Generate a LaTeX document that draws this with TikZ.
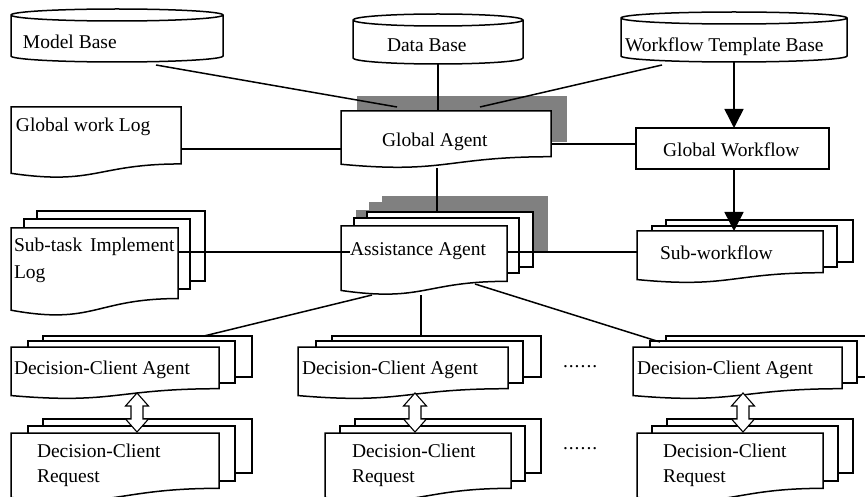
\documentclass[tikz,border=0pt]{standalone}
\usepackage{fontspec}
\setmainfont{Liberation Serif}
\usetikzlibrary{arrows.meta}

\makeatletter
\newdimen\dsL \newdimen\dsR \newdimen\dsT \newdimen\dsB
\newdimen\dsM \newdimen\dsH \newdimen\dsD \newdimen\dsA
\newdimen\dsC \newdimen\dsP \newdimen\dsQ \newdimen\dsU
\newdimen\dsV \newdimen\dsW \newdimen\dsX

% corners of the node box and its middle x
\def\ds@corners{%
  \southwest \dsL=\pgf@x \dsB=\pgf@y
  \northeast \dsR=\pgf@x \dsT=\pgf@y
  \dsM=\dsL \advance\dsM by \dsR \dsM=.5\dsM
}

% a page whose lower edge is wavy
\pgfdeclareshape{docpage}{%
  \inheritsavedanchors[from=rectangle]%
  \inheritanchorborder[from=rectangle]%
  \inheritanchor[from=rectangle]{center}%
  \inheritanchor[from=rectangle]{mid}%
  \inheritanchor[from=rectangle]{base}%
  \inheritanchor[from=rectangle]{north}%
  \inheritanchor[from=rectangle]{south}%
  \inheritanchor[from=rectangle]{east}%
  \inheritanchor[from=rectangle]{west}%
  \inheritanchor[from=rectangle]{north east}%
  \inheritanchor[from=rectangle]{north west}%
  \inheritanchor[from=rectangle]{south east}%
  \inheritanchor[from=rectangle]{south west}%
  \backgroundpath{%
    \ds@corners
    \dsH=\dsT \advance\dsH by -\dsB
    \dsA=\dsB \advance\dsA by .198\dsH
    \dsC=\dsB \advance\dsC by .066\dsH
    \dsD=\dsB \advance\dsD by -.1075\dsH
    \pgfpathmoveto{\pgfpoint{\dsL}{\dsT}}%
    \pgfpathlineto{\pgfpoint{\dsR}{\dsT}}%
    \pgfpathlineto{\pgfpoint{\dsR}{\dsA}}%
    \pgfpathcurveto{\pgfpoint{\dsM}{\dsA}}{\pgfpoint{\dsM}{\dsD}}{\pgfpoint{\dsL}{\dsC}}%
    \pgfpathclose
  }%
}

% a drum (database store) with an elliptic lid
\pgfdeclareshape{drum}{%
  \inheritsavedanchors[from=rectangle]%
  \inheritanchorborder[from=rectangle]%
  \inheritanchor[from=rectangle]{center}%
  \inheritanchor[from=rectangle]{mid}%
  \inheritanchor[from=rectangle]{base}%
  \inheritanchor[from=rectangle]{north}%
  \inheritanchor[from=rectangle]{south}%
  \inheritanchor[from=rectangle]{east}%
  \inheritanchor[from=rectangle]{west}%
  \inheritanchor[from=rectangle]{north east}%
  \inheritanchor[from=rectangle]{north west}%
  \inheritanchor[from=rectangle]{south east}%
  \inheritanchor[from=rectangle]{south west}%
  \backgroundpath{%
    \ds@corners
    \dsH=\dsR \advance\dsH by -\dsM
    \dsD=6pt
    \dsA=\dsT \advance\dsA by -\dsD
    \dsC=\dsB \advance\dsC by \dsD
    \dsP=\dsM \advance\dsP by -.5523\dsH
    \dsQ=\dsM \advance\dsQ by .5523\dsH
    \dsU=\dsC \advance\dsU by -.5523\dsD
    \dsV=\dsA \advance\dsV by .5523\dsD
    \dsW=\dsA \advance\dsW by -.5523\dsD
    \dsX=\dsA \advance\dsX by -\dsD
    \pgfpathmoveto{\pgfpoint{\dsL}{\dsA}}%
    \pgfpathlineto{\pgfpoint{\dsL}{\dsC}}%
    \pgfpathcurveto{\pgfpoint{\dsL}{\dsU}}{\pgfpoint{\dsP}{\dsB}}{\pgfpoint{\dsM}{\dsB}}%
    \pgfpathcurveto{\pgfpoint{\dsQ}{\dsB}}{\pgfpoint{\dsR}{\dsU}}{\pgfpoint{\dsR}{\dsC}}%
    \pgfpathlineto{\pgfpoint{\dsR}{\dsA}}%
    \pgfpathcurveto{\pgfpoint{\dsR}{\dsV}}{\pgfpoint{\dsQ}{\dsT}}{\pgfpoint{\dsM}{\dsT}}%
    \pgfpathcurveto{\pgfpoint{\dsP}{\dsT}}{\pgfpoint{\dsL}{\dsV}}{\pgfpoint{\dsL}{\dsA}}%
    \pgfpathclose
    \pgfpathmoveto{\pgfpoint{\dsL}{\dsA}}%
    \pgfpathcurveto{\pgfpoint{\dsL}{\dsW}}{\pgfpoint{\dsP}{\dsX}}{\pgfpoint{\dsM}{\dsX}}%
    \pgfpathcurveto{\pgfpoint{\dsQ}{\dsX}}{\pgfpoint{\dsR}{\dsW}}{\pgfpoint{\dsR}{\dsA}}%
  }%
}
\makeatother

\definecolor{shadegray}{RGB}{128,128,128}

\tikzset{
  frame/.style={draw=black, line width=1.5pt, fill=white, inner sep=0pt,
    outer sep=0pt, anchor=north west},
  docbox/.style={frame, shape=docpage},
  store/.style={frame, shape=drum},
  sheet/.style={frame, shape=rectangle},
  shadowbox/.style={shape=rectangle, fill=shadegray, draw=none, inner sep=0pt,
    outer sep=0pt, anchor=north west},
  dims/.style 2 args={minimum width=#1pt, minimum height=#2pt},
  caption/.style={anchor=base west, inner sep=0pt, outer sep=0pt,
    font=\fontsize{19.5pt}{24pt}\selectfont},
  link/.style={line width=1.5pt},
  flow/.style={link, -{Triangle[length=19pt,width=19pt]}},
  twoway/.style={draw=black, line width=1.1pt, fill=white, line join=miter},
}

% hollow two-headed arrow hanging below the given point
\newcommand\twoway[1]{%
  \draw[twoway] (#1) -- ++(11.5,13) -- ++(-5.5,0) -- ++(0,13) -- ++(5.5,0)
    -- ++(-11.5,13) -- ++(-11.5,-13) -- ++(5.5,0) -- ++(0,-13) -- ++(-5.5,0)
    -- cycle;}

% spaced ellipsis dots
\newcommand\spaceddots{.\kern1pt.\kern1pt.\kern1pt.\kern1pt.\kern1pt.}

\begin{document}
\begin{tikzpicture}[x=1pt, y=-1pt]
\useasboundingbox (0,0) rectangle (865,497);
\clip (0,0) rectangle (865,497);

% shadows behind the agents
\node[shadowbox, dims={210}{46}] (ga-sh) at (357,96) {};
\node[shadowbox, dims={166}{55}] (aa3-sh) at (382,196) {};
\node[shadowbox, dims={165}{55}] (aa2-sh) at (369,202) {};
\node[shadowbox, dims={166}{55}] (aa1-sh) at (356,210) {};

% stores
\node[store, dims={212}{53}] (mb) at (11,9) {};
\node[store, dims={170}{50}] (db) at (353,14) {};
\node[store, dims={226}{50}] (wt) at (621,12) {};

% global level
\node[docbox, dims={170}{71}] (gwl) at (11,107) {};
\node[docbox, dims={210}{57}] (ga) at (341,111) {};
\node[sheet, dims={193}{41}] (gw) at (636,128) {};

% sub-task log stack
\node[sheet, dims={168}{70}] (st3) at (37,211) {};
\node[sheet, dims={166}{70}] (st2) at (24,219) {};
\node[docbox, dims={167}{88}] (st1) at (11,228) {};

% assistance agent stack
\node[sheet, dims={166}{55}] (aa3) at (367,212) {};
\node[sheet, dims={165}{55}] (aa2) at (354,218) {};
\node[docbox, dims={166}{69}] (aa1) at (341,226) {};

% sub-workflow stack
\node[sheet, dims={187}{42}] (sw3) at (666,220) {};
\node[sheet, dims={185}{41}] (sw2) at (652,226) {};
\node[docbox, dims={186}{52}] (sw1) at (637,231) {};

% decision-client agents
\node[sheet, dims={209}{41}] (dca1c) at (43,336) {};
\node[sheet, dims={207}{42}] (dca1b) at (28,341) {};
\node[docbox, dims={208}{52}] (dca1a) at (11,347) {};

\node[sheet, dims={209}{41}] (dca2c) at (332,336) {};
\node[sheet, dims={207}{42}] (dca2b) at (316,341) {};
\node[docbox, dims={210}{52}] (dca2a) at (298,347) {};

\node[sheet, dims={209}{41}] (dca3c) at (666,336) {};
\node[sheet, dims={207}{42}] (dca3b) at (650,341) {};
\node[docbox, dims={209}{52}] (dca3a) at (633,347) {};

% decision-client requests
\node[sheet, dims={209}{54}] (dcr1c) at (43,419) {};
\node[sheet, dims={207}{55}] (dcr1b) at (28,426) {};
\node[docbox, dims={208}{69}] (dcr1a) at (11,433) {};

\node[sheet, dims={186}{54}] (dcr2c) at (355,419) {};
\node[sheet, dims={185}{55}] (dcr2b) at (340,426) {};
\node[docbox, dims={186}{69}] (dcr2a) at (325,433) {};

\node[sheet, dims={186}{54}] (dcr3c) at (667,419) {};
\node[sheet, dims={186}{55}] (dcr3b) at (652,426) {};
\node[docbox, dims={186}{69}] (dcr3a) at (637,433) {};

% connector end points
\coordinate (mb-o) at (156,65);
\coordinate (ga-i1) at (397,107);
\coordinate (wt-o) at (662,65);
\coordinate (ga-i2) at (480,107);
\coordinate (ga-o) at (437,168);
\coordinate (rowG) at (0,149);
\coordinate (rowW) at (0,144);
\coordinate (rowA) at (0,252);
\coordinate (aa-o1) at (372,295);
\coordinate (aa-o2) at (421,295);
\coordinate (aa-o3) at (475,284);
\coordinate (dca1-i) at (204,336);
\coordinate (dca3-i) at (660,342);

% connectors
\draw[link] (mb-o) -- (ga-i1);
\draw[link] (wt-o) -- (ga-i2);
\draw[link] (db.south) -- (db.south |- ga.north);
\draw[link] (gwl.east |- rowG) -- (ga.west |- rowG);
\draw[link] (ga.east |- rowW) -- (gw.west |- rowW);
\draw[flow] (wt.south) -- (wt.south |- gw.north);
\draw[flow] (wt.south |- gw.south) -- (wt.south |- sw1.north);
\draw[link] (ga-o) -- (ga-o |- aa3.north);
\draw[link, shorten >=-9pt] (st1.east |- rowA) -- (aa1.west |- rowA);
\draw[link] (aa1.east |- rowA) -- (sw1.west |- rowA);
\draw[link] (aa-o1) -- (dca1-i);
\draw[link] (aa-o2) -- (aa-o2 |- dca2c.north);
\draw[link] (aa-o3) -- (dca3-i);

% agent <-> request exchanges
\coordinate (x1) at (137,393);
\coordinate (x2) at (415,393);
\coordinate (x3) at (743,393);
\twoway{x1}
\twoway{x2}
\twoway{x3}

% texts
\node[caption] (mb-t) at (23,49) {Model Base};
\node[caption] (db-t) at (387,52) {Data Base};
\node[caption] (wt-t) at (625,52) {Workflow Template Base};
\node[caption] (gwl-t) at (16,132) {Global work Log};
\node[caption] (ga-t) at (382,147) {Global Agent};
\node[caption] (gw-t) at (663,157) {Global Workflow};
\node[caption] (st-t1) at (14,252) {Sub-task\hspace{3pt} Implement};
\node[caption] (st-t2) at (14,278) {Log};
\node[caption] (aa-t) at (350,255) {Assistance Agent};
\node[caption] (sw-t) at (660,259) {Sub-workflow};
\node[caption] (dca1-t) at (14,374) {Decision-Client Agent};
\node[caption] (dca2-t) at (302,374) {Decision-Client Agent};
\node[caption] (dca3-t) at (637,374) {Decision-Client Agent};
\node[caption] (dcr1-t1) at (37,457) {Decision-Client};
\node[caption] (dcr1-t2) at (37,482) {Request};
\node[caption] (dcr2-t1) at (352,457) {Decision-Client};
\node[caption] (dcr2-t2) at (352,482) {Request};
\node[caption] (dcr3-t1) at (663,457) {Decision-Client};
\node[caption] (dcr3-t2) at (663,482) {Request};
\node[caption] (dots1) at (563,367) {\spaceddots};
\node[caption] (dots2) at (563,449) {\spaceddots};
\end{tikzpicture}
\end{document}
